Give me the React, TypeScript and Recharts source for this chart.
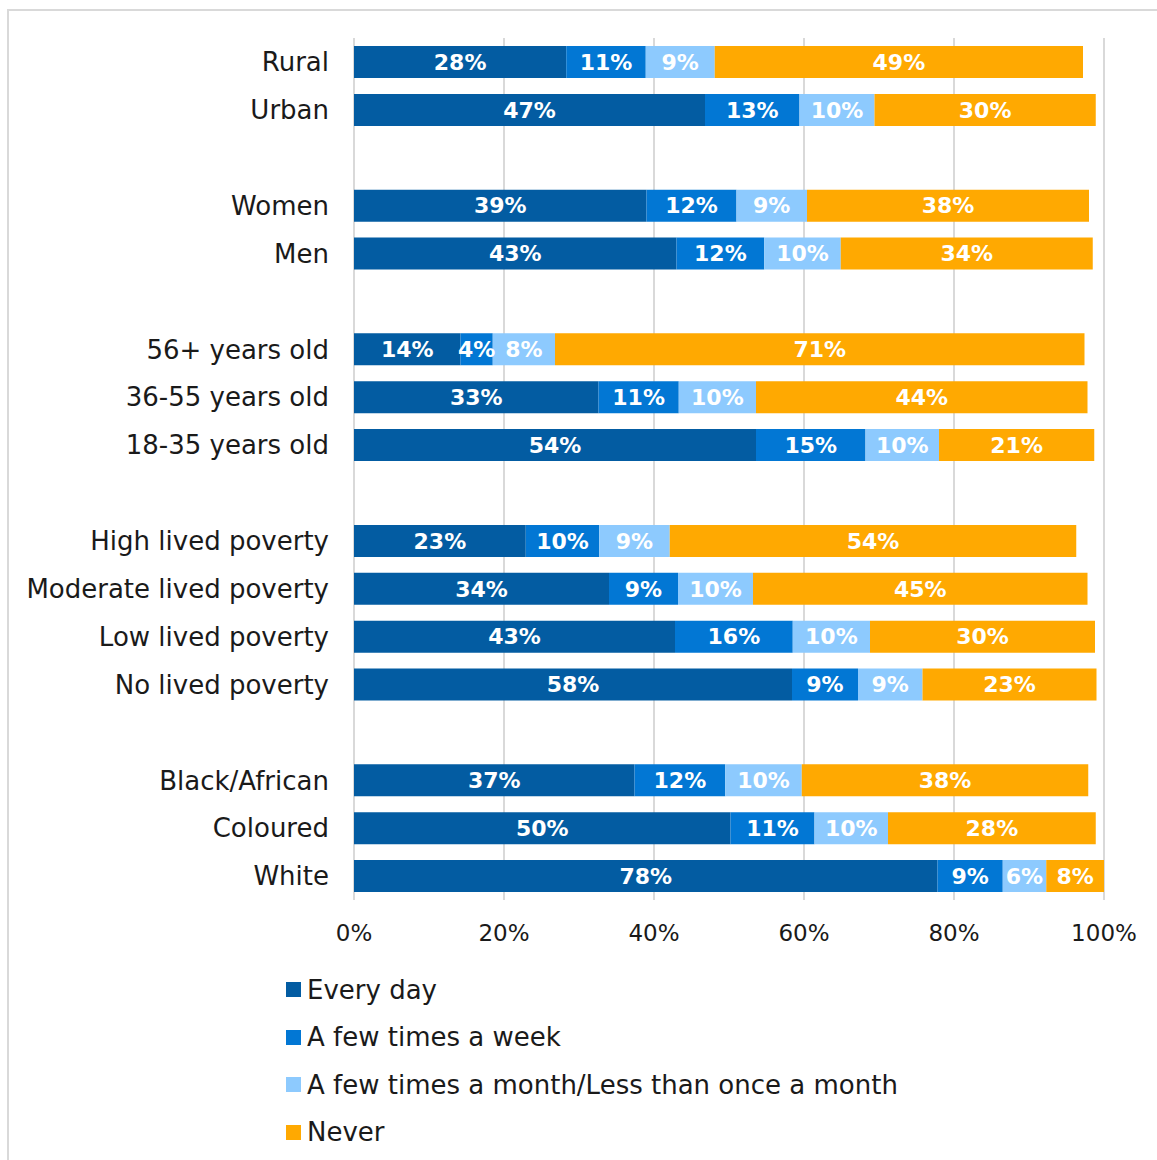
import React from "react";
import { BarChart, Bar, XAxis, YAxis, CartesianGrid, LabelList, Legend } from "recharts";

const categories = [
  "Rural", "Urban", " ",
  "Women", "Men", "  ",
  "56+ years old", "36-55 years old", "18-35 years old", "   ",
  "High lived poverty", "Moderate lived poverty", "Low lived poverty", "No lived poverty", "    ",
  "Black/African", "Coloured", "White",
];
const everyDay = [28.3, 46.8, null, 39.0, 43.0, null, 14.2, 32.6, 53.6, null, 22.9, 34.0, 42.8, 58.4, null, 37.4, 50.2, 77.8];
const fewWeek = [10.6, 12.6, null, 12.0, 11.7, null, 4.3, 10.7, 14.6, null, 9.8, 9.2, 15.7, 8.8, null, 12.1, 11.2, 8.7];
const fewMonth = [9.2, 10.0, null, 9.4, 10.2, null, 8.3, 10.3, 9.8, null, 9.4, 10.0, 10.3, 8.6, null, 10.2, 9.8, 5.8];
const never = [49.1, 29.5, null, 37.6, 33.6, null, 70.6, 44.2, 20.7, null, 54.2, 44.6, 30.0, 23.2, null, 38.2, 27.7, 7.7];
const xTicks = [0, 20, 40, 60, 80, 100];

const seriesNames = ["Every day", "A few times a week", "A few times a month/Less than once a month", "Never"];
const seriesKeys = ["everyDay", "fewWeek", "fewMonth", "never"];
const colors = ["#035ca2", "#0277d4", "#8dcafe", "#ffa901"];

const data = categories.map((name, i) => ({
  name,
  everyDay: everyDay[i],
  fewWeek: fewWeek[i],
  fewMonth: fewMonth[i],
  never: never[i],
}));

const FONT = "'DejaVu Sans', sans-serif";

const fmt = (v: any) => (v === null || v === undefined || v === "" ? "" : `${Math.round(Number(v))}%`);

const LegendContent = () => (
  <div style={{ fontFamily: FONT }}>
    {seriesNames.map((n, i) => (
      <div key={n} style={{ height: 47.5, display: "flex", alignItems: "center" }}>
        <span style={{ width: 15, height: 15, background: colors[i], display: "inline-block", marginRight: 6 }} />
        <span style={{ fontSize: 26, color: "#1a1a1a", whiteSpace: "nowrap" }}>{n}</span>
      </div>
    ))}
  </div>
);

export default function App() {
  return (
    <div style={{ position: "absolute", left: 0, top: 0, width: 1157, height: 1160, background: "#fff", overflow: "hidden" }}>
      <div style={{ position: "absolute", left: 7, top: 9, width: 1170, height: 1170, border: "2px solid #d9d9d9", boxSizing: "border-box" }} />
      <div style={{ position: "absolute", left: 0, top: 0 }}>
        <BarChart
          width={1157}
          height={1160}
          data={data}
          layout="vertical"
          margin={{ top: 38, right: 53, left: 0, bottom: 10 }}
          barSize={32}
        >
          <CartesianGrid horizontal={false} stroke="#d9d9d9" strokeWidth={2} />
          <XAxis
            type="number"
            domain={[0, 100]}
            ticks={xTicks}
            tickFormatter={(v) => `${v}%`}
            axisLine={false}
            tickLine={false}
            tickSize={0}
            tickMargin={25}
            height={60}
            tick={{ fontSize: 23, fill: "#1a1a1a", fontFamily: FONT }}
            interval={0}
          />
          <YAxis
            type="category"
            dataKey="name"
            width={354}
            axisLine={false}
            tickLine={false}
            tickSize={0}
            tickMargin={25}
            interval={0}
            tick={{ fontSize: 26, fill: "#1a1a1a", fontFamily: FONT }}
          />
          <Legend
            layout="vertical"
            align="center"
            verticalAlign="bottom"
            content={<LegendContent />}
            wrapperStyle={{ left: 286, top: 966, bottom: "auto", width: "auto" }}
          />
          {seriesKeys.map((k, i) => (
            <Bar key={k} dataKey={k} name={seriesNames[i]} stackId="a" fill={colors[i]} isAnimationActive={false}>
              <LabelList
                dataKey={k}
                position="center"
                formatter={fmt}
                fill="#ffffff"
                style={{ fontSize: 22, fontWeight: 700, fontFamily: FONT, fill: "#ffffff" }}
              />
            </Bar>
          ))}
        </BarChart>
      </div>
    </div>
  );
}
